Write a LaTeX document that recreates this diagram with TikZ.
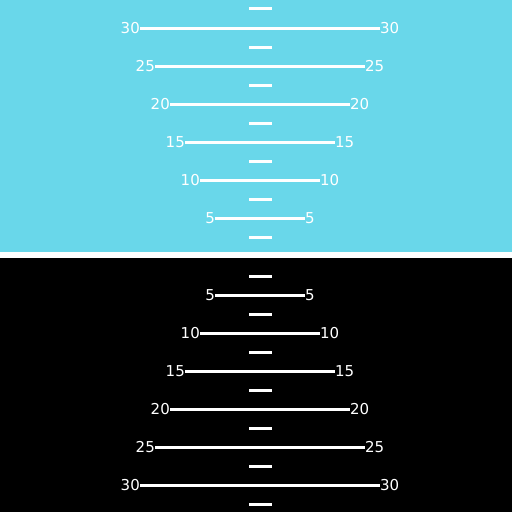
\documentclass[tikz,border=0pt]{standalone}
\usepackage{fontspec}
\setmainfont{DejaVu Sans}
\definecolor{sky}{RGB}{105,215,234}
\tikzset{
  rung/.style={draw=white,line width=3pt},
  tickmark/.style={draw=white,line width=3pt},
  lbl/.style={text=white,inner sep=0pt,font=\fontsize{15}{17}\selectfont}
}
\begin{document}
\begin{tikzpicture}[x=1pt,y=-1pt]
\useasboundingbox (0,0) rectangle (512,512);
\fill[sky] (0,0) rectangle (512,252);
\fill[white] (0,252) rectangle (512,258);
\fill[black] (0,258) rectangle (512,512);
% top (blue) ladder
\foreach \a/\y in {30/28,25/66,20/104,15/142,10/180,5/218}{
  \pgfmathsetmacro{\h}{3*\a+30}
  \node[lbl,anchor=east] (tl\a) at ({260-\h},\y) {\a};
  \node[lbl,anchor=west] (tr\a) at ({260+\h},\y) {\a};
  \draw[rung] (tl\a.east) -- (tr\a.west);
}
\foreach \y in {8.5,47,85,123,161,199,237}{
  \draw[tickmark] (249,\y) -- (271.5,\y);
}
% bottom (black) ladder
\foreach \a/\y in {5/295,10/333,15/371,20/409,25/447,30/485}{
  \pgfmathsetmacro{\h}{3*\a+30}
  \node[lbl,anchor=east] (bl\a) at ({260-\h},\y) {\a};
  \node[lbl,anchor=west] (br\a) at ({260+\h},\y) {\a};
  \draw[rung] (bl\a.east) -- (br\a.west);
}
\foreach \y in {276,314,352,390,428,466,504}{
  \draw[tickmark] (249,\y) -- (271.5,\y);
}
\end{tikzpicture}
\end{document}
